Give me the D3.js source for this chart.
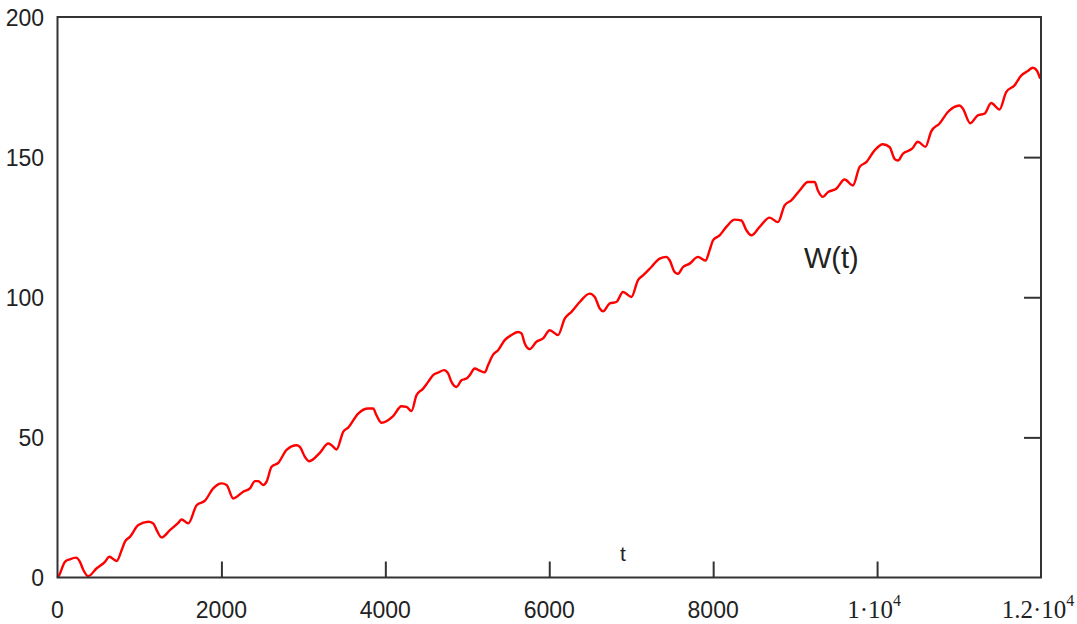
<!DOCTYPE html>
<html>
<head>
<meta charset="utf-8">
<script src="https://cdn.jsdelivr.net/npm/d3@7"></script>
<style>
  html, body { margin: 0; padding: 0; background: #fff; }
  svg { display: block; }
</style>
</head>
<body>
<svg id="chart" width="1077" height="624"></svg>
<script>
// W(t) samples
const tValues = [0, 10, 91, 152, 226, 274, 315, 376, 478, 579, 632, 722, 783, 823, 884, 986,
  1108, 1169, 1210, 1270, 1372, 1473, 1514, 1595, 1698, 1799, 1900, 2002, 2063, 2144, 2266,
  2348, 2409, 2449, 2510, 2551, 2612, 2693, 2795, 2917, 2957, 3018, 3071, 3201, 3303, 3344,
  3405, 3486, 3547, 3669, 3790, 3851, 3892, 3954, 4095, 4197, 4258, 4319, 4380, 4461, 4522,
  4583, 4644, 4717, 4766, 4807, 4868, 4929, 4990, 5030, 5091, 5152, 5213, 5254, 5315, 5376,
  5457, 5539, 5620, 5661, 5701, 5762, 5844, 5925, 6006, 6107, 6189, 6271, 6372, 6494, 6555,
  6616, 6656, 6738, 6819, 6900, 7002, 7083, 7144, 7246, 7347, 7429, 7469, 7530, 7571, 7632,
  7713, 7815, 7906, 7957, 7998, 8079, 8161, 8262, 8344, 8405, 8466, 8567, 8689, 8790, 8872,
  8953, 9055, 9156, 9238, 9278, 9339, 9400, 9502, 9604, 9705, 9787, 9868, 9970, 10071, 10152,
  10213, 10254, 10315, 10427, 10498, 10590, 10661, 10762, 10864, 11006, 11047, 11137, 11229,
  11311, 11392, 11494, 11575, 11677, 11758, 11839, 11900, 11949, 11990];
const wValues = [0, 0.3, 5.6, 6.5, 7.1, 5.6, 2.7, 0.5, 3.3, 5.6, 7.4, 5.9, 9.8, 12.8, 14.5, 18.7,
  19.9, 19.3, 16.9, 14.3, 16.9, 19.5, 20.7, 19.3, 25.8, 27.4, 31.8, 33.6, 33.0, 28.2, 30.6,
  31.8, 34.4, 34.4, 33.0, 34.2, 39.5, 40.9, 45.5, 47.2, 46.6, 43.1, 41.5, 44.5, 47.8, 47.2,
  45.7, 52.0, 53.5, 58.5, 60.3, 60.3, 57.9, 55.2, 57.6, 61.1, 60.9, 59.4, 65.0, 67.4, 69.8,
  72.2, 73.1, 74.0, 72.8, 69.8, 68.0, 70.4, 71.0, 72.2, 74.6, 73.8, 73.2, 75.8, 79.5, 81.1,
  84.7, 86.5, 87.6, 87.1, 83.5, 81.5, 84.1, 85.3, 88.2, 86.5, 92.4, 94.8, 98.3, 101.3, 100.1,
  96.0, 95.0, 97.8, 98.3, 101.9, 100.1, 106.1, 107.8, 110.8, 113.8, 114.4, 113.2, 109.0, 108.4, 110.8,
  112.0, 114.4, 113.1, 116.8, 120.3, 122.1, 125.1, 127.7, 127.4, 123.9, 122.1, 125.1, 128.4, 126.8, 132.8,
  134.6, 138.1, 141.1, 141.1, 138.1, 135.8, 137.5, 138.7, 142.0, 139.9, 146.5, 148.2, 152.4, 154.6, 153.6,
  149.4, 148.8, 151.2, 153.0, 155.5, 153.7, 159.2, 162.0, 166.1, 168.4, 167.3, 162.1, 164.9,
  165.5, 169.3, 167.0, 173.2, 175.6, 179.1, 180.7, 181.9, 180.9, 178.0];

const xTicks = [0, 2000, 4000, 6000, 8000, 10000, 12000];
const xTickLabels = ["0", "2000", "4000", "6000", "8000", ["1", "10", "4"], ["1.2", "10", "4"]];
const yTicks = [0, 50, 100, 150, 200];
const yTickLabels = ["0", "50", "100", "150", "200"];

const svg = d3.select("#chart");
const margin = { left: 57.5, right: 1077 - 1041, top: 17, bottom: 624 - 577.5 };
const W = 1077, H = 624;
const x = d3.scaleLinear().domain([0, 12000]).range([margin.left, W - margin.right]);
const y = d3.scaleLinear().domain([0, 200]).range([H - margin.bottom, margin.top]);

const frameColor = "#333";
const textColor = "#222";

// curve
const data = tValues.map((t, i) => ({ t, w: wValues[i] }));
svg.append("path")
  .datum(data)
  .attr("fill", "none")
  .attr("stroke", "#ff0000")
  .attr("stroke-width", 2.4)
  .attr("stroke-linejoin", "round")
  .attr("d", d3.line().x(d => x(d.t)).y(d => y(d.w)).curve(d3.curveMonotoneX));

// frame
svg.append("rect")
  .attr("x", x(0)).attr("y", y(200))
  .attr("width", x(12000) - x(0)).attr("height", y(0) - y(200))
  .attr("fill", "none").attr("stroke", frameColor).attr("stroke-width", 2);

// inward ticks: bottom edge for t, right edge for W
const bottomAxis = d3.axisTop(x).tickValues(xTicks.slice(1, -1)).tickSize(16).tickFormat("");
svg.append("g").attr("transform", `translate(0,${y(0)})`).call(bottomAxis)
  .call(g => g.select(".domain").remove())
  .call(g => g.selectAll("line").attr("stroke", frameColor).attr("stroke-width", 2));

const rightAxis = d3.axisLeft(y).tickValues(yTicks.slice(1, -1)).tickSize(17).tickFormat("");
svg.append("g").attr("transform", `translate(${x(12000)},0)`).call(rightAxis)
  .call(g => g.select(".domain").remove())
  .call(g => g.selectAll("line").attr("stroke", frameColor).attr("stroke-width", 2));

// y tick labels
svg.append("g").selectAll("text")
  .data(yTicks)
  .join("text")
  .attr("x", 44)
  .attr("y", d => y(d))
  .attr("dy", "0.38em")
  .attr("text-anchor", "end")
  .attr("font-family", "Liberation Sans, Arial, sans-serif")
  .attr("font-size", 23)
  .attr("fill", textColor)
  .text((d, i) => yTickLabels[i]);

// x tick labels
const xl = svg.append("g");
xTicks.forEach((v, i) => {
  const lab = xTickLabels[i];
  if (typeof lab === "string") {
    xl.append("text")
      .attr("x", x(v)).attr("y", 618)
      .attr("text-anchor", "middle")
      .attr("font-family", "Liberation Sans, Arial, sans-serif")
      .attr("font-size", 23)
      .attr("fill", textColor)
      .text(lab);
  } else {
    const t = xl.append("text")
      .attr("x", x(v) - 3).attr("y", 618)
      .attr("text-anchor", "middle")
      .attr("font-family", "Liberation Serif, Times New Roman, serif")
      .attr("font-size", 25)
      .attr("fill", textColor);
    t.append("tspan").text(lab[0] + "\u00B7" + lab[1]);
    t.append("tspan").attr("font-size", 16).attr("dy", -12).text(lab[2]);
  }
});

// annotations
svg.append("text")
  .attr("x", 804).attr("y", 268)
  .attr("font-family", "Liberation Sans, Arial, sans-serif")
  .attr("font-size", 29)
  .attr("fill", textColor)
  .text("W(t)");

svg.append("text")
  .attr("x", 623).attr("y", 561)
  .attr("text-anchor", "middle")
  .attr("font-family", "Liberation Sans, Arial, sans-serif")
  .attr("font-size", 21)
  .attr("fill", textColor)
  .text("t");
</script>
</body>
</html>
